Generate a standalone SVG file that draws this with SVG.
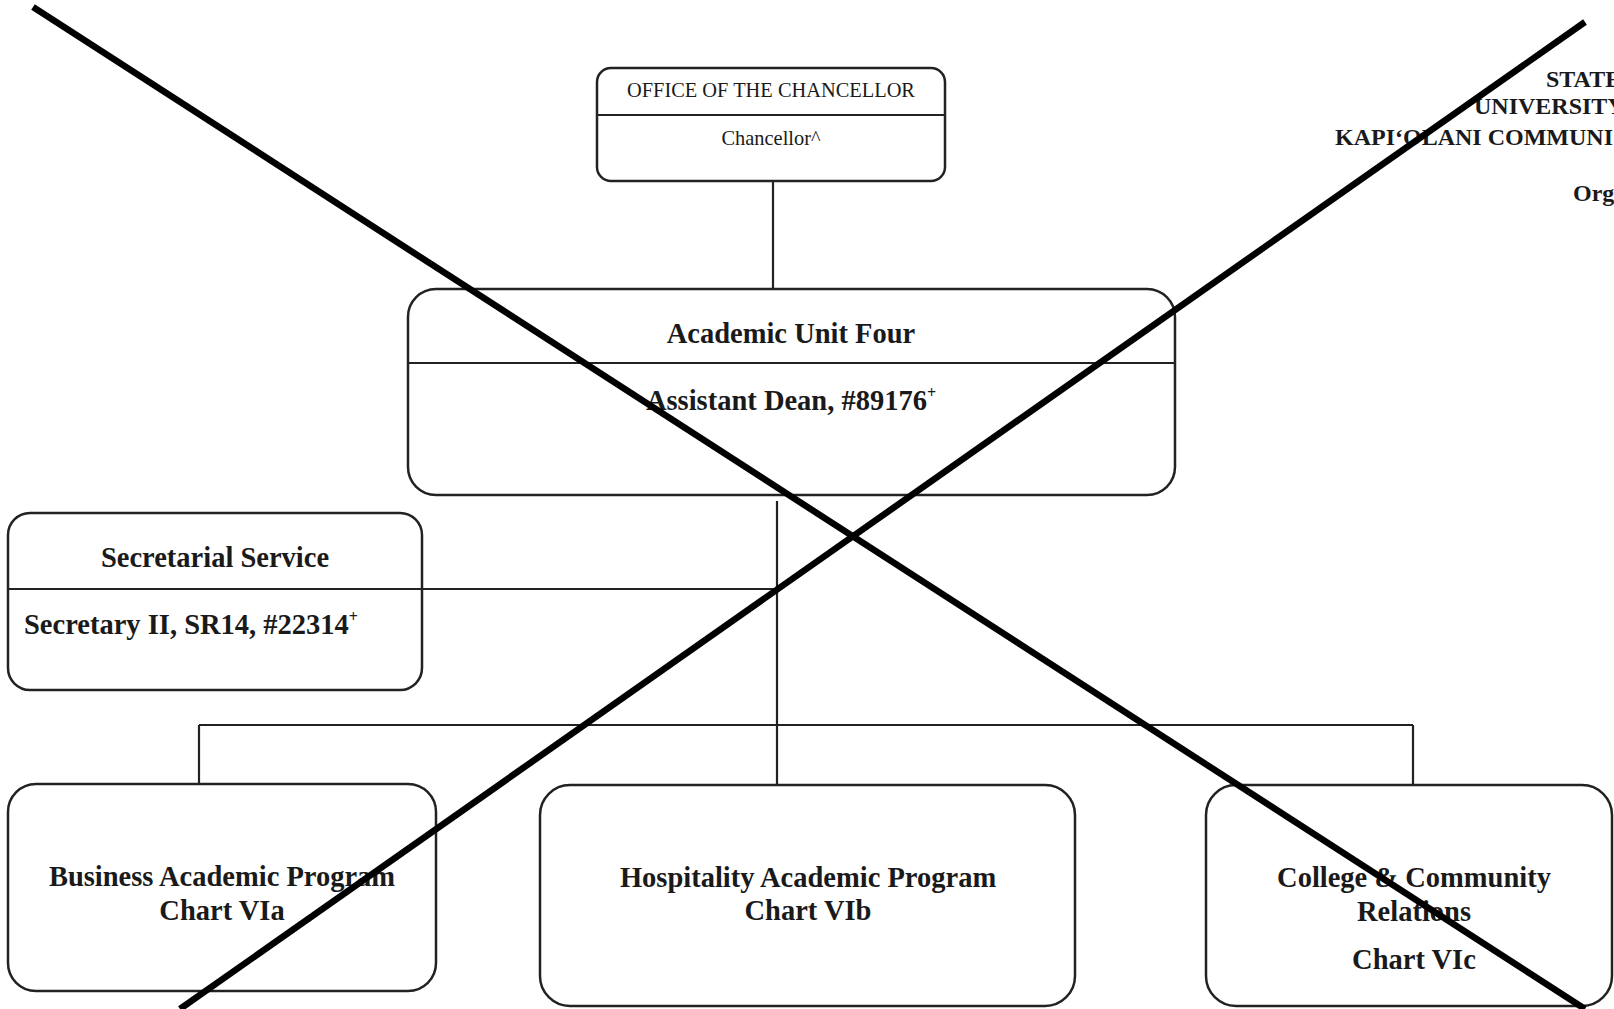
<svg xmlns="http://www.w3.org/2000/svg" width="1614" height="1009" viewBox="0 0 1614 1009">
<style>
.box{fill:#fff;stroke:#222;stroke-width:2.5}
.div{stroke:#222;stroke-width:2.2}
.con{stroke:#222;stroke-width:2.2;fill:none}
.b{font-family:"Liberation Serif","Times New Roman",serif;font-weight:bold;font-size:28.5px;fill:#1a1a1a;text-anchor:middle}
.r{font-family:"Liberation Serif","Times New Roman",serif;font-size:20.4px;fill:#1a1a1a;text-anchor:middle}
.h{font-family:"Liberation Serif","Times New Roman",serif;font-weight:bold;font-size:24px;fill:#1a1a1a}
.sup{font-size:16px}
.x{stroke:#000;stroke-width:6.5;fill:none}
</style>
<rect width="1614" height="1009" fill="#fff"/>
<g id="header">
<text class="h" x="1546" y="87">STATE</text>
<text class="h" x="1474" y="114">UNIVERSITY</text>
<text class="h" x="1335" y="145">KAPI‘OLANI COMMUNI</text>
<text class="h" x="1573" y="201">Org</text>
</g>
<g id="connectors">
<path class="con" d="M773 181 V289"/>
<path class="con" d="M777 501 V785"/>
<path class="con" d="M422 589 H777"/>
<path class="con" d="M199 725 H1413"/>
<path class="con" d="M199 725 V784"/>
<path class="con" d="M1413 725 V785"/>
</g>
<g id="chancellor">
<rect class="box" x="597" y="68" width="348" height="113" rx="14"/>
<line class="div" x1="597" y1="115" x2="945" y2="115"/>
<text class="r" x="771" y="97">OFFICE OF THE CHANCELLOR</text>
<text class="r" x="771" y="145">Chancellor^</text>
</g>
<g id="academic-unit-four">
<rect class="box" x="408" y="289" width="767" height="206" rx="28"/>
<line class="div" x1="408" y1="363" x2="1175" y2="363"/>
<text class="b" x="791" y="343">Academic Unit Four</text>
<text class="b" x="791" y="410">Assistant Dean, #89176<tspan class="sup" dy="-12">+</tspan></text>
</g>
<g id="secretarial">
<rect class="box" x="8" y="513" width="414" height="177" rx="22"/>
<line class="div" x1="8" y1="589" x2="422" y2="589"/>
<text class="b" x="215" y="567">Secretarial Service</text>
<text class="b" x="24" y="634" style="text-anchor:start">Secretary II, SR14, #22314<tspan class="sup" dy="-12">+</tspan></text>
</g>
<g id="business">
<rect class="box" x="8" y="784" width="428" height="207" rx="28"/>
<text class="b" x="222" y="886">Business Academic Program</text>
<text class="b" x="222" y="920">Chart VIa</text>
</g>
<g id="hospitality">
<rect class="box" x="540" y="785" width="535" height="221" rx="30"/>
<text class="b" x="808" y="887">Hospitality Academic Program</text>
<text class="b" x="808" y="920">Chart VIb</text>
</g>
<g id="college">
<rect class="box" x="1206" y="785" width="406" height="221" rx="30"/>
<text class="b" x="1414" y="887">College &amp; Community</text>
<text class="b" x="1414" y="921">Relations</text>
<text class="b" x="1414" y="969">Chart VIc</text>
</g>
<g id="cross">
<line class="x" x1="33" y1="7" x2="1585" y2="1009"/>
<line class="x" x1="1585" y1="22" x2="180" y2="1009"/>
</g>
</svg>
